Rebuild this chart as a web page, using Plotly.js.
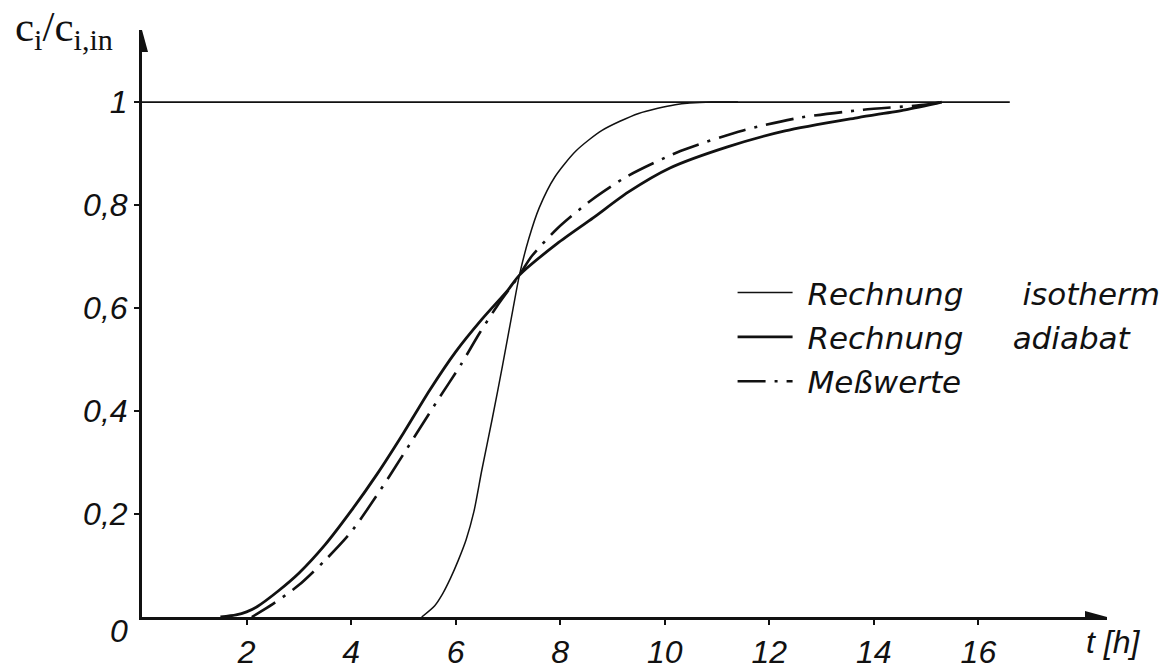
<!DOCTYPE html>
<html>
<head>
<meta charset="utf-8">
<script src="https://cdn.plot.ly/plotly-3.0.1.min.js"></script>
<style>html,body{margin:0;padding:0;background:#fff;}</style>
</head>
<body>
<div id="chart" style="width:1172px;height:671px;"></div>
<script>
// Reference line c/c_in = 1
const refT = [0, 16.6];
const refV = [1, 1];

// Rechnung isotherm (thin solid)
const isoT = [5.35, 5.6, 5.75, 5.9, 6.05, 6.2, 6.35, 6.5, 6.7, 6.9, 7.1, 7.22, 7.4, 7.6, 7.9, 8.3, 8.8, 9.5, 10.2, 10.9, 11.4];
const isoV = [0, 0.022, 0.045, 0.075, 0.11, 0.15, 0.205, 0.285, 0.385, 0.49, 0.6, 0.664, 0.735, 0.795, 0.855, 0.905, 0.945, 0.978, 0.995, 1.0, 1.0];

// Rechnung adiabat (thick solid)
const adiT = [1.5, 1.8, 2.0, 2.2, 2.6, 3.0, 3.5, 4.0, 4.5, 5.0, 5.5, 6.0, 6.5, 7.0, 7.22, 7.94, 8.63, 9.3, 10.1, 11.2, 12.3, 13.7, 14.6, 15.3];
const adiV = [0, 0.004, 0.01, 0.02, 0.05, 0.085, 0.14, 0.206, 0.278, 0.357, 0.44, 0.515, 0.578, 0.635, 0.664, 0.725, 0.775, 0.825, 0.872, 0.913, 0.944, 0.97, 0.985, 1.0];

// Meßwerte (dash-dot)
const mesT = [2.1, 2.5, 3.0, 3.5, 4.0, 4.55, 5.15, 5.65, 6.1, 6.45, 6.8, 7.22, 7.45, 7.95, 8.6, 9.3, 10.3, 11.5, 12.6, 13.8, 15.0, 15.3];
const mesV = [0, 0.025, 0.062, 0.11, 0.165, 0.245, 0.34, 0.42, 0.49, 0.55, 0.605, 0.664, 0.70, 0.755, 0.81, 0.857, 0.905, 0.945, 0.97, 0.985, 0.995, 1.0];

// Tick labels
const xTickVals = [2, 4, 6, 8, 10, 12, 14, 16];
const xTickText = ['2', '4', '6', '8', '10', '12', '14', '16'];
const yTickVals = [0.2, 0.4, 0.6, 0.8, 1];
const yTickText = ['0,2', '0,4', '0,6', '0,8', '1'];

// Legend labels
const nameIso = '\u00a0Rechnung\u00a0\u00a0\u00a0\u00a0\u00a0\u00a0isotherm';
const nameAdi = '\u00a0Rechnung\u00a0\u00a0\u00a0\u00a0\u00a0adiabat';
const nameMes = '\u00a0Meßwerte';

const X_MAX = 18.46, Y_MAX = 1.14;

const traces = [
  {x: refT, y: refV, type: 'scatter', mode: 'lines', line: {color: '#111', width: 1.6}, showlegend: false, hoverinfo: 'skip'},
  {x: isoT, y: isoV, type: 'scatter', mode: 'lines', name: nameIso, legendgroup: 'a',
   line: {color: '#111', width: 1.5, shape: 'spline', smoothing: 0.7}},
  {x: adiT, y: adiV, type: 'scatter', mode: 'lines', name: nameAdi, legendgroup: 'b',
   line: {color: '#111', width: 2.8, shape: 'spline', smoothing: 0.7}},
  {x: mesT, y: mesV, type: 'scatter', mode: 'lines', name: nameMes, legendgroup: 'c',
   line: {color: '#111', width: 2.6, dash: '28px,9px,3px,9px', shape: 'spline', smoothing: 0.7}}
];

const tickFont = {family: 'Liberation Sans, Arial, sans-serif', size: 32, style: 'italic', color: '#111'};

const layout = {
  width: 1172, height: 671,
  margin: {l: 142, r: 65, t: 30, b: 54, autoexpand: false},
  paper_bgcolor: '#fff', plot_bgcolor: '#fff',
  xaxis: {
    range: [0, X_MAX], showgrid: false, zeroline: false,
    showline: true, linewidth: 3, linecolor: '#111',
    ticks: 'outside', ticklen: 5, tickwidth: 2, tickcolor: '#111',
    tickvals: xTickVals, ticktext: xTickText, tickfont: tickFont, fixedrange: true
  },
  yaxis: {
    range: [0, Y_MAX], showgrid: false, zeroline: false,
    showline: true, linewidth: 3, linecolor: '#111',
    ticks: 'outside', ticklen: 5, tickwidth: 2, tickcolor: '#111',
    tickvals: yTickVals, ticktext: yTickText, tickfont: tickFont, fixedrange: true
  },
  showlegend: true,
  legend: {
    x: 0.612, y: 0.598, xanchor: 'left', yanchor: 'top',
    bgcolor: 'rgba(0,0,0,0)', borderwidth: 0,
    font: {family: 'DejaVu Sans, sans-serif', size: 31, style: 'italic', color: '#111'},
    traceorder: 'grouped', tracegroupgap: 1, itemwidth: 55
  },
  shapes: [
    {type: 'path', xref: 'x', yref: 'y', xsizemode: 'pixel', ysizemode: 'pixel',
     xanchor: X_MAX, yanchor: 0, path: 'M 0,0 L -22,6 L -22,-6 Z',
     fillcolor: '#111', line: {width: 0}, layer: 'above'},
    {type: 'path', xref: 'x', yref: 'y', xsizemode: 'pixel', ysizemode: 'pixel',
     xanchor: 0, yanchor: Y_MAX, path: 'M 0,0 L -6,-22 L 6,-22 Z',
     fillcolor: '#111', line: {width: 0}, layer: 'above'}
  ],
  annotations: [
    {xref: 'paper', yref: 'paper', x: -0.134, y: 1.05, xanchor: 'left', yanchor: 'top', showarrow: false,
     text: 'c<sub>i</sub>/c<sub>i,in</sub>', font: {family: 'Liberation Serif, Times New Roman, serif', size: 43, color: '#111'}},
    {xref: 'paper', yref: 'paper', x: -0.024, y: 0.01, xanchor: 'center', yanchor: 'top', showarrow: false,
     text: '0', font: tickFont},
    {xref: 'paper', yref: 'paper', x: 0.976, y: -0.008, xanchor: 'left', yanchor: 'top', showarrow: false,
     text: 't [h]', font: tickFont}
  ]
};

Plotly.newPlot('chart', traces, layout, {displayModeBar: false, staticPlot: true});
</script>
</body>
</html>
